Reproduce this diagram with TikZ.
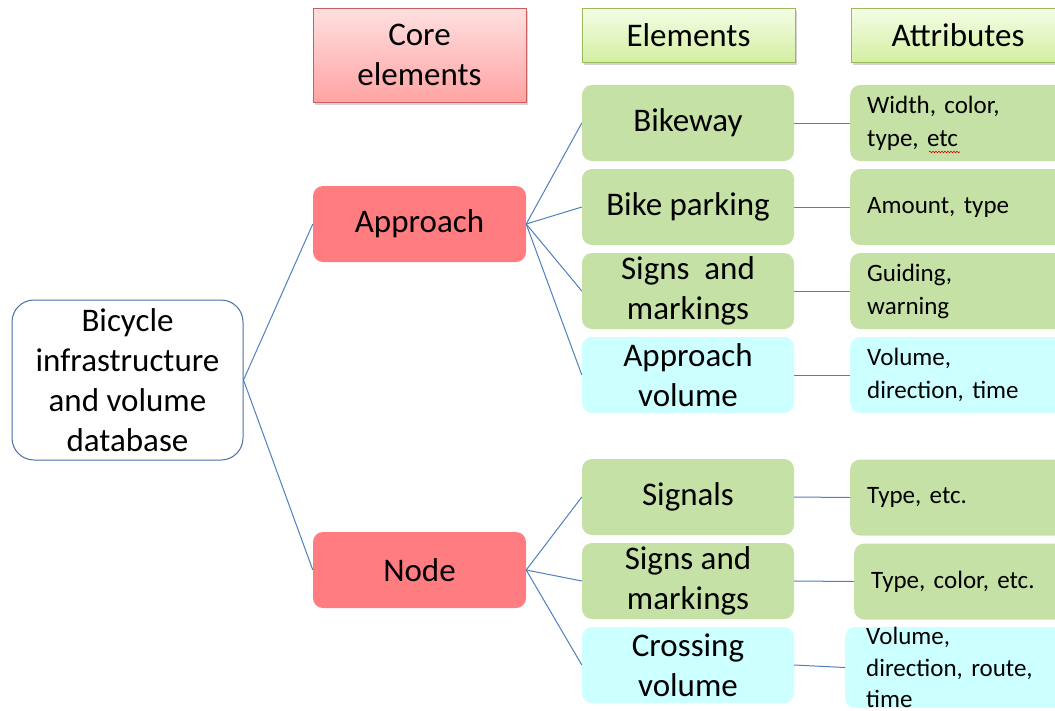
\documentclass[tikz,border=0pt]{standalone}
\usepackage{fontspec}
\setmainfont{Carlito}
\usetikzlibrary{shadows,decorations.pathmorphing}
\definecolor{lnc}{HTML}{4F7FBF}
\definecolor{rootbd}{HTML}{4A6FA5}
\definecolor{salmon}{HTML}{FF7C80}
\definecolor{elgreen}{HTML}{C6E1A6}
\definecolor{elcyan}{HTML}{CCFFFF}
\definecolor{pinktop}{HTML}{FFE0E0}
\definecolor{pinkbot}{HTML}{FFA3A3}
\definecolor{pinkbd}{HTML}{C9605E}
\definecolor{grtop}{HTML}{F5FDE6}
\definecolor{grbot}{HTML}{D3EFA2}
\definecolor{grbd}{HTML}{9BBB59}
\tikzset{
  big/.style={font=\fontsize{33}{40}\selectfont},
  rootbox/.style={draw=rootbd, line width=1pt, fill=white, rounded corners=22pt,
    minimum width=231pt, minimum height=160pt, align=center, big, inner sep=0pt},
  hdrpink/.style={draw=pinkbd, line width=0.8pt, top color=pinktop, bottom color=pinkbot,
    minimum width=213pt, minimum height=94pt, align=center, big, inner sep=0pt,
    drop shadow={shadow xshift=2pt, shadow yshift=-3pt, opacity=0.35}},
  hdrgreen/.style={draw=grbd, line width=0.8pt, top color=grtop, bottom color=grbot,
    minimum width=213pt, minimum height=54pt, align=center, big, inner sep=0pt,
    drop shadow={shadow xshift=2pt, shadow yshift=-3pt, opacity=0.35}},
  corebox/.style={fill=salmon, rounded corners=10pt, minimum width=213pt, minimum height=76pt,
    align=center, big, inner sep=0pt},
  elbox/.style={fill=elgreen, rounded corners=10pt, minimum width=212pt, minimum height=76pt,
    align=center, big, inner sep=0pt},
  elcbox/.style={elbox, fill=elcyan},
  attbox/.style={fill=elgreen, rounded corners=10pt, minimum width=215pt, minimum height=76pt,
    text width=181pt, align=left, inner xsep=17pt, inner ysep=0pt, anchor=west,
    font=\fontsize{25}{33}\selectfont},
  attcbox/.style={attbox, fill=elcyan},
  conn/.style={draw=lnc, line width=1pt},
  squiggle/.style={draw=red!85!black, line width=0.6pt, decorate,
    decoration={snake, amplitude=0.8pt, segment length=3pt}},
}
\begin{document}
\begin{tikzpicture}[x=1pt,y=-1pt]
\useasboundingbox (0,0) rectangle (1055,710);
\clip (0,0) rectangle (1055,710);
% headers
\node[hdrpink] (hcore) at (419.5,55) {Core\\elements};
\node[hdrgreen] (hel) at (688.5,35) {Elements};
\node[hdrgreen, minimum width=214pt] (hatt) at (958,35) {Attributes};
% root
\node[rootbox] (root) at (127.5,380) {Bicycle\\infrastructure\\and volume\\database};
% core
\node[corebox] (app) at (419.5,224) {Approach};
\node[corebox] (nod) at (419.5,570) {Node};
% elements
\node[elbox] (e1) at (688,123) {Bikeway};
\node[elbox] (e2) at (688,207) {Bike parking};
\node[elbox] (e3) at (688,291) {Signs~ and\\markings};
\node[elcbox] (e4) at (688,375) {Approach\\volume};
\node[elbox] (e5) at (688,497) {Signals};
\node[elbox] (e6) at (688,581) {Signs and\\markings};
\node[elcbox] (e7) at (688,665) {Crossing\\volume};
% attributes
\node[attbox] (a1) at (850,123) {Width, color,\\type, etc};
\node[attbox] (a2) at (850,207) {Amount, type};
\node[attbox] (a3) at (850,291) {Guiding,\\warning};
\node[attcbox] (a4) at (850,375) {Volume,\\direction, time};
\node[attbox] (a5) at (850,497.5) {Type, etc.};
\node[attbox, inner xsep=16pt] (a6) at (854,581.5) {Type, color, etc.};
\node[attcbox, minimum height=74pt, inner xsep=21pt, font=\fontsize{25}{31.5}\selectfont] (a7) at (845,667.5) {Volume,\\direction, route,\\time};
% spell-check squiggle under "etc"
\path[squiggle] ([xshift=79pt,yshift=-29pt]a1.west) -- ([xshift=110pt,yshift=-29pt]a1.west);
% connectors
\draw[conn] (root.east) -- (app.west);
\draw[conn] (root.east) -- (nod.west);
\foreach \e in {e1,e2,e3,e4} \draw[conn] (app.east) -- (\e.west);
\foreach \e in {e5,e6,e7} \draw[conn] (nod.east) -- (\e.west);
\draw[conn] (e1.east) -- (a1.west);
\draw[conn] (e2.east) -- (a2.west);
\draw[conn] (e3.east) -- (a3.west);
\draw[conn] (e4.east) -- (a4.west);
\draw[conn] (e5.east) -- (a5.west);
\draw[conn] (e6.east) -- (a6.west);
\draw[conn] (e7.east) -- (a7.west);
\end{tikzpicture}
\end{document}
